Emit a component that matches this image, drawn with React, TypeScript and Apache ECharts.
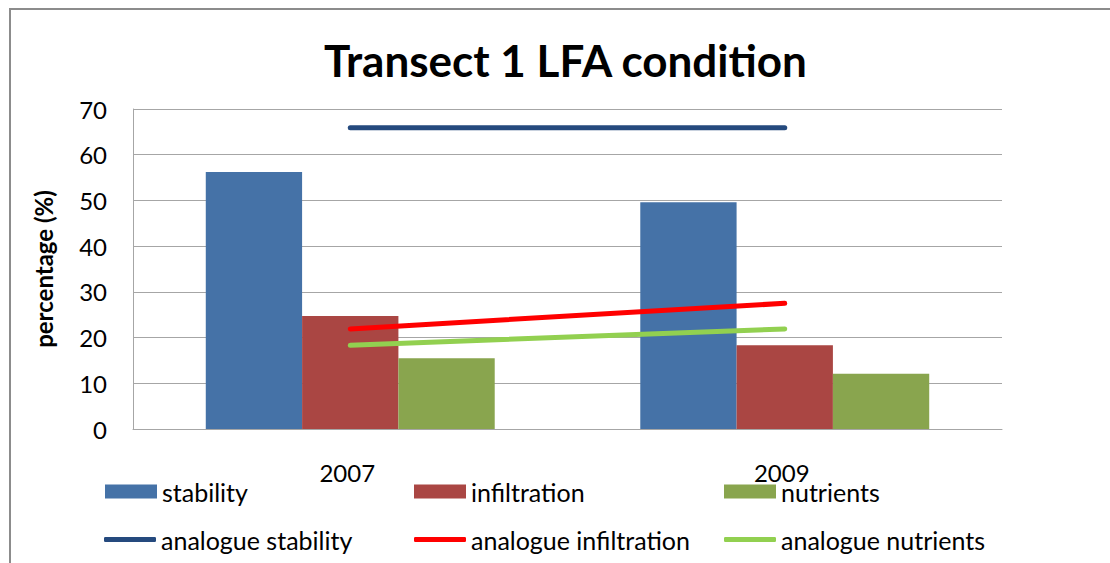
import React, { useEffect, useRef } from "react";
import * as echarts from "echarts";

const categories = ["2007", "2009"];
const stability = [56.2, 49.6];
const infiltration = [24.7, 18.3];
const nutrients = [15.5, 12.1];
const analogueStability = [65.9, 65.9];
const analogueInfiltration = [21.9, 27.5];
const analogueNutrients = [18.3, 21.9];

const FONT = "Lato";

export default function App() {
  const ref = useRef<HTMLDivElement>(null);
  useEffect(() => {
    document.body.style.margin = "0";
    const chart = echarts.init(ref.current!, null, { renderer: "svg" });
    const legendText = { fontFamily: FONT, fontSize: 25, color: "#000" };
    const mkLegend = (name: string, left: number, top: number, isLine: boolean) => ({
      data: [isLine ? { name, icon: "roundRect" } : { name, icon: "rect" }],
      left,
      top,
      orient: "horizontal",
      padding: 0,
      itemWidth: 52,
      itemHeight: isLine ? 5 : 14,
      itemGap: 0,
      textStyle: { ...legendText },
      selectedMode: false,
    });
    const lineStyle = (color: string) => ({ color, width: 5, cap: "round" });
    chart.setOption({
      animation: false,
      backgroundColor: "#fff",
      title: {
        text: "Transect 1 LFA condition",
        left: 319,
        top: 33,
        textStyle: { fontFamily: FONT, fontSize: 44, fontWeight: "bold", color: "#000" },
      },
      graphic: [
        {
          type: "rect",
          shape: { x: 10, y: 9, width: 1300, height: 900 },
          style: { fill: "none", stroke: "#8c8c8c", lineWidth: 2 },
          silent: true,
          z: -1,
        },
      ],
      legend: [
        mkLegend("stability", 105, 479, false),
        mkLegend("infiltration", 414, 479, false),
        mkLegend("nutrients", 724, 479, false),
        mkLegend("analogue stability", 104, 527, true),
        mkLegend("analogue infiltration", 414, 527, true),
        mkLegend("analogue nutrients", 724, 527, true),
      ],
      grid: { left: 133, top: 109, right: 108, bottom: 134, containLabel: false },
      xAxis: {
        type: "category",
        data: categories,
        axisLine: { show: true, lineStyle: { color: "#a6a6a6", width: 1 } },
        axisTick: { show: false },
        axisLabel: {
          fontFamily: FONT,
          fontSize: 24,
          color: "#000",
          margin: 31,
          padding: [0, 6, 0, 0],
        },
      },
      yAxis: {
        type: "value",
        min: 0,
        max: 70,
        interval: 10,
        name: "percentage (%)",
        nameLocation: "middle",
        nameGap: 78,
        nameTextStyle: { fontFamily: FONT, fontSize: 24, fontWeight: "bold", color: "#000" },
        axisLine: { show: true, lineStyle: { color: "#a6a6a6", width: 1 } },
        axisTick: { show: false },
        splitLine: { show: true, lineStyle: { color: "#a6a6a6", width: 1 } },
        axisLabel: { fontFamily: FONT, fontSize: 24, color: "#000", margin: 26 },
      },
      series: [
        { name: "stability", type: "bar", data: stability, itemStyle: { color: "#4572A7" }, barGap: "0%", barCategoryGap: "33.5%" },
        { name: "infiltration", type: "bar", data: infiltration, itemStyle: { color: "#AA4643" } },
        { name: "nutrients", type: "bar", data: nutrients, itemStyle: { color: "#89A54E" } },
        { name: "analogue stability", type: "line", data: analogueStability, symbol: "none", lineStyle: lineStyle("#254A7E"), itemStyle: { color: "#254A7E" } },
        { name: "analogue infiltration", type: "line", data: analogueInfiltration, symbol: "none", lineStyle: lineStyle("#FF0000"), itemStyle: { color: "#FF0000" } },
        { name: "analogue nutrients", type: "line", data: analogueNutrients, symbol: "none", lineStyle: lineStyle("#92D050"), itemStyle: { color: "#92D050" } },
      ],
    });
    return () => chart.dispose();
  }, []);
  return <div ref={ref} style={{ position: "absolute", left: 0, top: 0, width: 1110, height: 563 }} />;
}
